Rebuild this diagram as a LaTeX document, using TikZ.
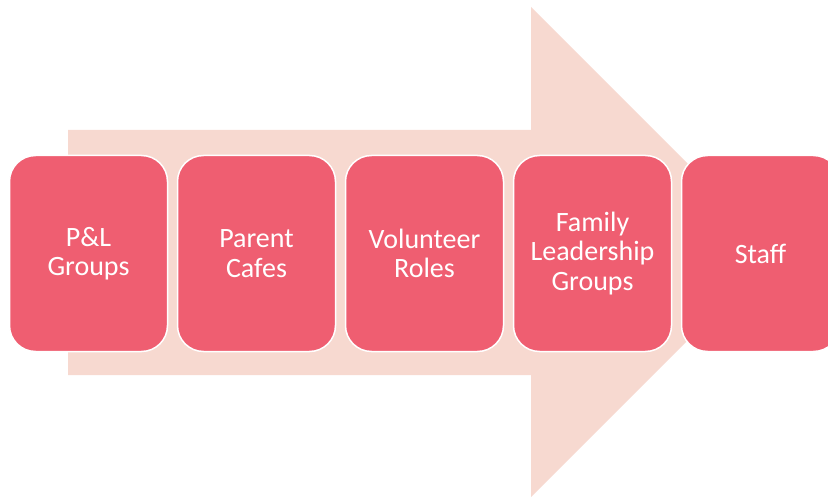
\documentclass[tikz,border=0pt]{standalone}
\usepackage{fontspec}
\setmainfont{Carlito}
\usetikzlibrary{positioning}
\definecolor{boxred}{HTML}{EF5E71}
\definecolor{arrowpink}{HTML}{F7D9D0}

\begin{document}
\begin{tikzpicture}[x=1pt,y=-1pt,
	stepbox/.style={draw=white,line width=1.5pt,fill=boxred,rounded corners=26pt,
		minimum width=158pt,minimum height=196pt,text width=152pt,align=center,
		text=white,font=\fontsize{28}{29.5}\selectfont,anchor=north west,
		inner sep=0pt,outer sep=0pt}]
	
	\useasboundingbox (0,0) rectangle (828,497);
	
	\coordinate (s1) at (68,130);
	\coordinate (s2) at (531,130);
	\coordinate (h1) at (531,7);
	\coordinate (tip) at (776,252);
	\coordinate (h2) at (531,497);
	\coordinate (s3) at (531,375);
	\coordinate (s4) at (68,375);
	\fill[arrowpink] (s1) -- (s2) -- (h1) -- (tip) -- (h2) -- (s3) -- (s4) -- cycle;
	
	\node[stepbox] (pl) at (9.5,155.5) {P\&L\\Groups};
	\node[stepbox,right=10pt of pl.north east,anchor=north west] (cafe) {Parent\\Cafes};
	\node[stepbox,right=10pt of cafe.north east,anchor=north west] (vol) {Volunteer\\Roles};
	\node[stepbox,right=10pt of vol.north east,anchor=north west] (flg) {Family\\Leadership\\Groups};
	\node[stepbox,right=10pt of flg.north east,anchor=north west] (staff) {Staff};
	
\end{tikzpicture}
\end{document}
